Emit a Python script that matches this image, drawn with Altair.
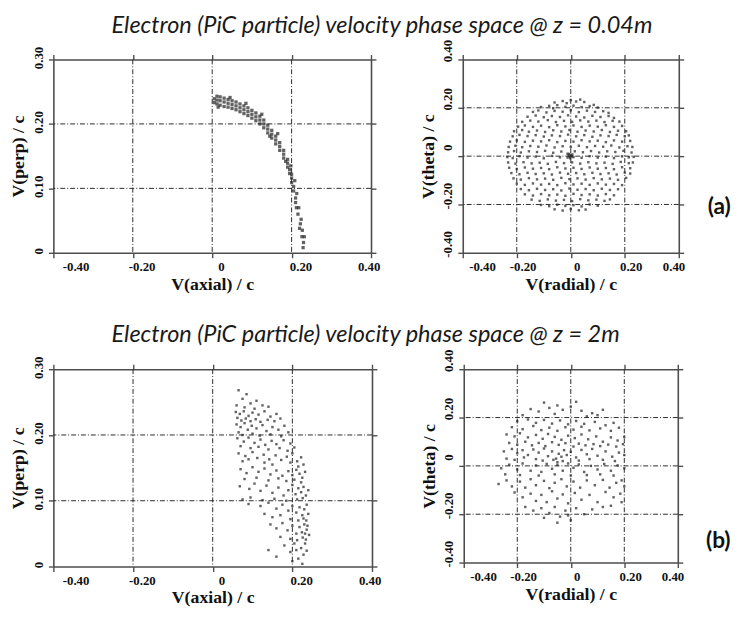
import altair as alt
import pandas as pd

# ---------------- data ----------------
title_a = "Electron (PiC particle) velocity phase space @ z = 0.04m"
title_b = "Electron (PiC particle) velocity phase space @ z = 2m"

axial_ticks = [-0.4, -0.2, 0.0, 0.2, 0.4]
perp_ticks = [0.0, 0.1, 0.2, 0.3]
theta_ticks = [-0.4, -0.2, 0.0, 0.2, 0.4]
axial_grid = [-0.2, 0.0, 0.2]
perp_grid = [0.1, 0.2]
theta_grid = [-0.2, 0.0, 0.2]

# (a) z = 0.04 m : V(axial), V(perp)
a_axial_perp = [
    (0.005, .233), (0.005, .239), (0.012, .231), (0.012, .237), (0.012, .243), (0.02, .229), (0.02, .236),
    (0.02, .242), (0.03, .227), (0.03, .234), (0.03, .240), (0.04, .226), (0.04, .232), (0.04, .238),
    (0.05, .224), (0.05, .230), (0.05, .236), (0.06, .222), (0.06, .228), (0.06, .234), (0.07, .219),
    (0.07, .225), (0.07, .231), (0.08, .216), (0.08, .222), (0.08, .228), (0.09, .213), (0.09, .219),
    (0.09, .225), (0.10, .209), (0.10, .215), (0.10, .221), (0.11, .205), (0.11, .211), (0.11, .217),
    (0.12, .200), (0.12, .206), (0.12, .212), (0.13, .194), (0.13, .200), (0.13, .206), (0.14, .186),
    (0.14, .192), (0.14, .198), (0.15, .178), (0.15, .184), (0.15, .190), (0.16, .169), (0.16, .175),
    (0.16, .181), (0.17, .159), (0.17, .165), (0.17, .171), (0.18, .147), (0.18, .153), (0.18, .159),
    (0.19, .133), (0.19, .139), (0.19, .145), (0.195, .123), (0.195, .129), (0.20, .109), (0.20, .116),
    (0.20, .122), (0.205, .096), (0.205, .103), (0.21, .078), (0.21, .085), (0.213, .092), (0.216, .060),
    (0.218, .070), (0.222, .045), (0.224, .052), (0.226, .025), (0.227, .035), (0.229, .008), (0.23, .016),
    (0.015, .226), (0.045, .241), (0.085, .232), (0.125, .215), (0.145, .181), (0.165, .185), (0.185, .142),
    (0.198, .135), (0.212, .070), (0.22, .038), (0.232, .025), (0.208, .112),
]

# (a) z = 0.04 m : V(radial), V(theta)
a_radial_theta = [
    (-0.06, .222), (-0.03, .228), (0.0, .232), (0.02, .226), (0.05, .224), (-0.015, .219), (0.035, .234),
    (-0.11, .203), (-0.08, .208), (-0.05, .211), (-0.02, .204), (0.01, .209), (0.04, .203), (0.07, .207),
    (0.10, .201), (-0.065, .198), (0.085, .212),
    (-0.14, .183), (-0.12, .189), (-0.09, .181), (-0.06, .187), (-0.03, .184), (0.00, .19), (0.03, .182),
    (0.06, .188), (0.09, .183), (0.12, .186), (0.14, .179),
    (-0.16, .163), (-0.13, .168), (-0.10, .161), (-0.07, .166), (-0.04, .162), (-0.01, .169), (0.02, .164),
    (0.05, .16), (0.08, .167), (0.11, .162), (0.14, .166), (0.16, .158),
    (-0.18, .142), (-0.15, .147), (-0.12, .143), (-0.085, .149), (-0.055, .141), (-0.025, .146), (0.005, .142),
    (0.035, .148), (0.065, .143), (0.095, .147), (0.125, .141), (0.155, .146), (0.18, .143),
    (-0.195, .122), (-0.17, .127), (-0.14, .121), (-0.11, .126), (-0.08, .12), (-0.05, .128), (-0.02, .123),
    (0.01, .127), (0.04, .121), (0.07, .126), (0.10, .122), (0.13, .128), (0.16, .121), (0.19, .125),
    (-0.21, .103), (-0.18, .108), (-0.155, .101), (-0.125, .106), (-0.095, .1), (-0.065, .107), (-0.035, .102),
    (-0.005, .108), (0.025, .101), (0.055, .106), (0.085, .102), (0.115, .108), (0.145, .1), (0.175, .105),
    (0.205, .103),
    (-0.215, .082), (-0.19, .088), (-0.16, .083), (-0.13, .087), (-0.10, .081), (-0.07, .086), (-0.04, .083),
    (-0.01, .089), (0.02, .082), (0.05, .087), (0.08, .08), (0.11, .086), (0.14, .083), (0.17, .088),
    (0.20, .082), (0.215, .086),
    (-0.225, .06), (-0.20, .065), (-0.17, .059), (-0.14, .064), (-0.11, .061), (-0.08, .066), (-0.05, .058),
    (-0.02, .063), (0.01, .06), (0.04, .066), (0.07, .061), (0.10, .064), (0.13, .058), (0.16, .065),
    (0.19, .06), (0.22, .063),
    (-0.23, .038), (-0.205, .043), (-0.18, .037), (-0.15, .042), (-0.12, .039), (-0.09, .044), (-0.06, .036),
    (-0.03, .041), (0.0, .038), (0.03, .043), (0.06, .037), (0.09, .042), (0.12, .039), (0.15, .044),
    (0.18, .036), (0.21, .041), (0.228, .038),
    (-0.232, .016), (-0.21, .021), (-0.185, .015), (-0.155, .02), (-0.125, .017), (-0.095, .022),
    (-0.065, .014), (-0.035, .019), (-0.012, .01), (0.015, .02), (0.045, .016), (0.075, .021), (0.105, .015),
    (0.135, .02), (0.165, .017), (0.195, .022), (0.225, .015),
    (-0.008, .002), (-0.004, -.003), (0.0, .004), (0.004, -.001), (-0.012, -.006), (0.006, .007),
    (-0.002, -.009), (0.01, -.004), (-0.006, .009), (0.002, 0.0),
    (-0.235, -.004), (-0.215, -.008), (-0.19, 0.0), (-0.16, -.006), (-0.13, -.002), (-0.10, -.009),
    (-0.07, .001), (-0.04, -.005), (0.04, -.007), (0.07, 0.0), (0.10, -.006), (0.13, -.002), (0.16, -.008),
    (0.19, -.001), (0.215, -.005), (0.233, -.003),
    (-0.232, -.026), (-0.205, -.031), (-0.175, -.025), (-0.145, -.03), (-0.115, -.027), (-0.085, -.032),
    (-0.055, -.024), (-0.025, -.029), (0.005, -.026), (0.035, -.031), (0.065, -.025), (0.095, -.03),
    (0.125, -.027), (0.155, -.032), (0.185, -.024), (0.215, -.029), (0.23, -.026),
    (-0.228, -.048), (-0.20, -.053), (-0.17, -.047), (-0.14, -.052), (-0.11, -.049), (-0.08, -.054),
    (-0.05, -.046), (-0.02, -.051), (0.01, -.048), (0.04, -.053), (0.07, -.047), (0.10, -.052),
    (0.13, -.049), (0.16, -.054), (0.19, -.046), (0.22, -.05),
    (-0.22, -.07), (-0.19, -.075), (-0.16, -.069), (-0.13, -.074), (-0.10, -.071), (-0.07, -.076),
    (-0.04, -.068), (-0.01, -.073), (0.02, -.07), (0.05, -.075), (0.08, -.069), (0.11, -.074),
    (0.14, -.071), (0.17, -.076), (0.20, -.068), (0.22, -.072),
    (-0.212, -.092), (-0.185, -.097), (-0.155, -.091), (-0.125, -.096), (-0.095, -.093), (-0.065, -.098),
    (-0.035, -.09), (-0.005, -.095), (0.025, -.092), (0.055, -.097), (0.085, -.091), (0.115, -.096),
    (0.145, -.093), (0.175, -.098), (0.205, -.09),
    (-0.2, -.114), (-0.17, -.119), (-0.14, -.113), (-0.11, -.118), (-0.08, -.115), (-0.05, -.12),
    (-0.02, -.112), (0.01, -.117), (0.04, -.114), (0.07, -.119), (0.10, -.113), (0.13, -.118),
    (0.16, -.115), (0.19, -.12),
    (-0.185, -.136), (-0.155, -.141), (-0.125, -.135), (-0.095, -.14), (-0.065, -.137), (-0.035, -.142),
    (-0.005, -.134), (0.025, -.139), (0.055, -.136), (0.085, -.141), (0.115, -.135), (0.145, -.14),
    (0.175, -.137),
    (-0.17, -.158), (-0.14, -.163), (-0.11, -.157), (-0.08, -.162), (-0.05, -.159), (-0.02, -.164),
    (0.01, -.156), (0.04, -.161), (0.07, -.158), (0.10, -.163), (0.13, -.157), (0.16, -.162),
    (-0.145, -.18), (-0.115, -.185), (-0.085, -.179), (-0.055, -.184), (-0.025, -.181), (0.005, -.186),
    (0.035, -.178), (0.065, -.183), (0.095, -.18), (0.125, -.185), (0.145, -.179),
    (-0.11, -.202), (-0.08, -.207), (-0.05, -.201), (-0.02, -.206), (0.01, -.203), (0.04, -.208),
    (0.07, -.2), (0.10, -.205),
    (-0.06, -.22), (-0.03, -.225), (0.0, -.219), (0.03, -.224), (0.055, -.221),
]

# (b) z = 2 m : V(axial), V(perp)
b_axial_perp = [
    (0.065, .268), (0.085, .262), (0.075, .255), (0.11, .252), (0.095, .248), (0.125, .245), (0.06, .245),
    (0.14, .243), (0.08, .242), (0.105, .24),
    (0.058, .235), (0.068, .232), (0.078, .236), (0.09, .229), (0.1, .234), (0.115, .231), (0.13, .236),
    (0.145, .228), (0.16, .232), (0.062, .226), (0.072, .222), (0.083, .225), (0.095, .221), (0.108, .224),
    (0.12, .22), (0.138, .223), (0.155, .221), (0.17, .225),
    (0.06, .216), (0.07, .212), (0.08, .218), (0.088, .208), (0.098, .214), (0.11, .21), (0.125, .215),
    (0.135, .206), (0.15, .212), (0.165, .208), (0.18, .214), (0.19, .204), (0.065, .204), (0.075, .2),
    (0.1, .202), (0.118, .199), (0.145, .201), (0.172, .198),
    (0.062, .195), (0.078, .19), (0.09, .196), (0.105, .188), (0.12, .193), (0.132, .185), (0.148, .191),
    (0.16, .186), (0.178, .192), (0.195, .187), (0.205, .181), (0.07, .183), (0.095, .18), (0.115, .182),
    (0.14, .178), (0.168, .18), (0.188, .176),
    (0.065, .172), (0.082, .168), (0.1, .174), (0.112, .165), (0.128, .17), (0.142, .163), (0.158, .169),
    (0.172, .162), (0.186, .167), (0.2, .172), (0.212, .16), (0.222, .166), (0.075, .16), (0.09, .163),
    (0.13, .158), (0.15, .155), (0.195, .158), (0.215, .152), (0.228, .155),
    (0.07, .148), (0.085, .142), (0.1, .151), (0.115, .144), (0.13, .149), (0.145, .14), (0.16, .146),
    (0.175, .138), (0.19, .145), (0.2, .139), (0.21, .147), (0.218, .141), (0.225, .135), (0.232, .144),
    (0.08, .133), (0.11, .135), (0.14, .131), (0.165, .134), (0.185, .13), (0.205, .132), (0.222, .128),
    (0.068, .122), (0.092, .118), (0.105, .126), (0.12, .115), (0.135, .123), (0.15, .112), (0.165, .12),
    (0.178, .108), (0.19, .116), (0.2, .124), (0.208, .11), (0.215, .119), (0.222, .113), (0.228, .121),
    (0.234, .108), (0.24, .116), (0.075, .102), (0.095, .105), (0.125, .101), (0.155, .103), (0.185, .1),
    (0.212, .102), (0.226, .104),
    (0.09, .095), (0.12, .092), (0.14, .097), (0.16, .088), (0.175, .094), (0.19, .085), (0.2, .092),
    (0.21, .082), (0.218, .09), (0.225, .078), (0.23, .087), (0.236, .094), (0.24, .08), (0.13, .08),
    (0.15, .075), (0.17, .078), (0.195, .072), (0.215, .07), (0.228, .073), (0.235, .07),
    (0.145, .064), (0.16, .058), (0.175, .066), (0.188, .055), (0.2, .062), (0.21, .05), (0.218, .06),
    (0.224, .052), (0.23, .064), (0.236, .056), (0.242, .048), (0.17, .045), (0.195, .042), (0.212, .04),
    (0.226, .044), (0.234, .041), (0.238, .062), (0.232, .05),
    (0.14, .025), (0.16, .015), (0.18, .032), (0.195, .022), (0.205, .035), (0.215, .012), (0.222, .028),
    (0.228, .018), (0.232, .035), (0.236, .024), (0.225, .004), (0.21, .025), (0.2, .008),
]

# (b) z = 2 m : V(radial), V(theta)
b_radial_theta = [
    (-0.1, .262), (-0.05, .25), (0.02, .265), (-0.15, .235), (-0.12, .225), (-0.08, .24), (-0.03, .232),
    (0.0, .245), (0.04, .228), (0.08, .218), (0.12, .232), (-0.18, .21), (-0.06, .215), (0.06, .205),
    (0.1, .21),
    (-0.2, .185), (-0.16, .192), (-0.13, .178), (-0.1, .19), (-0.07, .175), (-0.04, .188), (-0.01, .172),
    (0.02, .186), (0.05, .174), (0.09, .182), (0.13, .168), (0.16, .178), (-0.22, .16), (-0.18, .152),
    (-0.14, .165), (-0.11, .148), (-0.08, .158), (-0.05, .145), (-0.02, .16), (0.01, .15), (0.04, .162),
    (0.07, .147), (0.11, .155), (0.15, .145), (0.18, .158),
    (-0.24, .13), (-0.21, .122), (-0.19, .135), (-0.16, .118), (-0.13, .128), (-0.105, .112), (-0.085, .132),
    (-0.06, .12), (-0.035, .108), (-0.01, .125), (0.015, .115), (0.04, .13), (0.065, .11), (0.095, .122),
    (0.12, .1), (0.15, .118), (0.175, .105), (0.2, .12), (-0.23, .095), (-0.2, .088), (-0.17, .1),
    (-0.145, .085), (-0.12, .095), (-0.095, .082), (-0.07, .098), (-0.045, .087), (-0.02, .094), (0.01, .08),
    (0.03, .092), (0.055, .085), (0.085, .09), (0.11, .082), (0.14, .088), (0.17, .08), (0.195, .09),
    (-0.25, .06), (-0.22, .07), (-0.2, .052), (-0.18, .065), (-0.16, .045), (-0.14, .068), (-0.12, .055),
    (-0.1, .072), (-0.085, .04), (-0.07, .06), (-0.055, .03), (-0.045, .05), (-0.035, .038), (-0.025, .065),
    (-0.015, .045), (0.0, .058), (0.02, .035), (0.04, .066), (0.06, .048), (0.08, .07), (0.1, .042),
    (0.13, .06), (0.155, .038), (0.18, .055), (0.2, .045), (-0.24, .03), (-0.21, .025), (-0.175, .035),
    (-0.13, .028), (-0.105, .022), (-0.065, .025), (-0.05, .015), (-0.03, .02), (0.03, .022), (0.07, .028),
    (0.12, .025), (0.165, .02),
    (-0.26, -.01), (-0.23, .005), (-0.2, -.015), (-0.18, .01), (-0.15, -.02), (-0.13, .002), (-0.11, -.025),
    (-0.09, .008), (-0.07, -.012), (-0.05, .004), (-0.03, -.02), (-0.01, .01), (0.01, -.008), (0.03, .006),
    (0.05, -.025), (0.075, 0.0), (0.1, -.015), (0.125, .008), (0.15, -.02), (0.175, .002), (0.2, -.01),
    (-0.245, -.035), (-0.19, -.038), (-0.12, -.04), (-0.06, -.035), (0.0, -.04), (0.06, -.038), (0.11, -.035),
    (0.16, -.04),
    (-0.27, -.075), (-0.24, -.06), (-0.22, -.085), (-0.19, -.065), (-0.17, -.09), (-0.15, -.055),
    (-0.13, -.08), (-0.1, -.062), (-0.08, -.092), (-0.06, -.07), (-0.035, -.055), (-0.015, -.085),
    (0.01, -.065), (0.035, -.09), (0.06, -.06), (0.09, -.08), (0.12, -.058), (0.145, -.09), (0.17, -.07),
    (0.19, -.06), (0.2, -.085),
    (-0.21, -.11), (-0.18, -.13), (-0.15, -.115), (-0.13, -.145), (-0.11, -.12), (-0.09, -.15),
    (-0.07, -.105), (-0.05, -.135), (-0.03, -.118), (-0.01, -.155), (0.015, -.112), (0.04, -.14),
    (0.07, -.12), (0.1, -.15), (0.13, -.108), (0.16, -.13), (0.185, -.115), (0.19, -.15),
    (-0.17, -.17), (-0.14, -.185), (-0.11, -.175), (-0.08, -.195), (-0.06, -.17), (-0.04, -.21),
    (-0.02, -.185), (0.0, -.225), (0.02, -.175), (0.05, -.2), (0.08, -.18), (0.12, -.17), (-0.1, -.215),
    (-0.05, -.235), (-0.01, -.205), (0.15, -.165),
]

# ---------------- styling ----------------
FRAME = "#4d4d4d"
GRID = "#2b2b2b"
LABEL_EXPR = "datum.value == 0 ? '0' : (datum.value < 0 ? '-' : '') + format(abs(datum.value), '.2f')"


def panel(pts, xdom, ydom, xticks, yticks, xgrid, ygrid, xtitle, ytitle, w, h,
          xoff, yoff, size, tag=None, tag_y=0.77):
    df = pd.DataFrame(pts, columns=["x", "y"])
    xs = alt.Scale(domain=xdom, nice=False, zero=False)
    ys = alt.Scale(domain=ydom, nice=False, zero=False)
    ax_common = dict(domainColor=FRAME, domainWidth=1.6, tickColor=FRAME, tickWidth=1.4,
                     tickSize=5, grid=False)
    xaxis = alt.Axis(values=xticks, title=xtitle, labelExpr=LABEL_EXPR, labelOffset=xoff,
                     labelPadding=3, titlePadding=2, **ax_common)
    yaxis = alt.Axis(values=yticks, title=ytitle, labelExpr=LABEL_EXPR, labelAngle=270,
                     labelAlign="center", labelBaseline="bottom", labelOffset=yoff,
                     labelPadding=3, titlePadding=5, **ax_common)
    top_axis = alt.Axis(orient="top", values=xticks, labels=False, title=None, **ax_common)
    right_axis = alt.Axis(orient="right", values=yticks, labels=False, title=None, **ax_common)

    vgrid = alt.Chart(pd.DataFrame({"gx": xgrid})).mark_rule(
        color=GRID, strokeWidth=1, strokeDash=[5, 2, 1, 2]).encode(
        x=alt.X("gx:Q", scale=xs, axis=top_axis))
    hgrid = alt.Chart(pd.DataFrame({"gy": ygrid})).mark_rule(
        color=GRID, strokeWidth=1, strokeDash=[5, 2, 1, 2]).encode(
        y=alt.Y("gy:Q", scale=ys, axis=right_axis))
    points = alt.Chart(df).mark_square(size=size, color="#262626", opacity=0.72).encode(
        x=alt.X("x:Q", scale=xs, axis=xaxis),
        y=alt.Y("y:Q", scale=ys, axis=yaxis))
    layers = [points, vgrid, hgrid]
    if tag is not None:
        layers.append(alt.Chart(pd.DataFrame({"t": [tag]})).mark_text(
            font="Lato", fontWeight="bold", fontSize=23, color="#111",
            align="center", baseline="middle").encode(
            text="t:N", x=alt.value(w + 41), y=alt.value(h * tag_y)))
    return alt.layer(*layers).resolve_axis(x="independent", y="independent").properties(
        width=w, height=h)


def row_title(txt):
    return alt.TitleParams(txt, anchor="start", dx=103, font="Lato", fontStyle="italic",
                           fontWeight="normal", fontSize=23.8, color="#1a1a1a", offset=2)


pa_left = panel(a_axial_perp, [-0.4, 0.4], [0, 0.3], axial_ticks, perp_ticks, axial_grid, perp_grid,
                "V(axial) / c", "V(perp) / c", 322, 196, 9, -2, 11)
pa_right = panel(a_radial_theta, [-0.4, 0.4], [-0.4, 0.4], axial_ticks, theta_ticks, axial_grid, theta_grid,
                 "V(radial) / c", "V(theta) / c", 219, 196, 6, -9, 6, tag="(a)", tag_y=0.765)
pb_left = panel(b_axial_perp, [-0.4, 0.4], [0, 0.3], axial_ticks, perp_ticks, axial_grid, perp_grid,
                "V(axial) / c", "V(perp) / c", 323, 200, 9, -2, 6)
pb_right = panel(b_radial_theta, [-0.4, 0.4], [-0.4, 0.4], axial_ticks, theta_ticks, axial_grid, theta_grid,
                 "V(radial) / c", "V(theta) / c", 217, 196, 6, -9, 6, tag="(b)", tag_y=0.89)

row_a = alt.hconcat(pa_left, pa_right, spacing=40).properties(title=row_title(title_a))
row_b = alt.hconcat(pb_left, pb_right, spacing=40).properties(title=row_title(title_b))

chart = alt.vconcat(row_a, row_b, spacing=30).properties(
    padding={"left": 2, "top": 1, "right": 5, "bottom": 5}
).configure_view(stroke=None).configure_axis(
    labelFont="Liberation Serif", labelFontWeight="bold", labelFontSize=13, labelColor="#111",
    titleFont="Liberation Serif", titleFontWeight="bold", titleFontSize=18, titleColor="#111",
)

chart.save("out.html", embed_options={"renderer": "svg", "actions": False})
